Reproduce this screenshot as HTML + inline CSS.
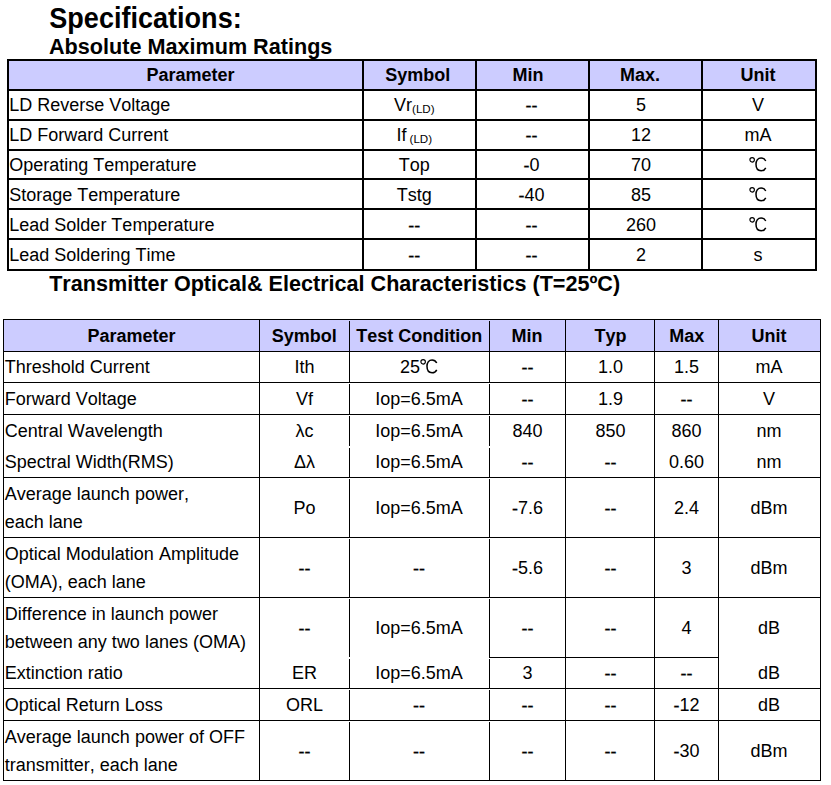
<!DOCTYPE html>
<html><head><meta charset="utf-8"><title>Specifications</title>
<style>
html,body{margin:0;padding:0;background:#fff;}
body{width:831px;height:785px;position:relative;overflow:hidden;font-family:"Liberation Sans",sans-serif;color:#000;}
.r{position:absolute;}
.t{position:absolute;white-space:nowrap;font-kerning:none;}
.dc{display:inline-block;width:18px;height:20px;vertical-align:top;}
.dc svg{display:block}
.dd{position:relative;top:1px;-webkit-text-stroke:0.3px #000;}
</style></head><body>
<div class="t" style="top:4.30px;font-size:27.05px;line-height:30px;left:49.30px;font-weight:bold;transform:scaleY(1.08);transform-origin:0 24px;">Specifications:</div>
<div class="t" style="top:34.00px;font-size:21.62px;line-height:25px;left:49.00px;font-weight:bold;">Absolute Maximum Ratings</div>
<div class="t" style="top:271.00px;font-size:21.58px;line-height:25px;left:49.20px;font-weight:bold;">Transmitter Optical&amp; Electrical Characteristics (T=25ºC)</div>
<div class="r" style="left:9px;top:61px;width:806px;height:28px;background:#ccccff"></div>
<div class="r" style="left:7px;top:59px;width:810px;height:2px;background:#000"></div>
<div class="r" style="left:7px;top:89px;width:810px;height:2px;background:#000"></div>
<div class="r" style="left:7px;top:119px;width:810px;height:2px;background:#000"></div>
<div class="r" style="left:7px;top:149px;width:810px;height:2px;background:#000"></div>
<div class="r" style="left:7px;top:178px;width:810px;height:2px;background:#000"></div>
<div class="r" style="left:7px;top:208px;width:810px;height:2px;background:#000"></div>
<div class="r" style="left:7px;top:238px;width:810px;height:2px;background:#000"></div>
<div class="r" style="left:7px;top:269px;width:810px;height:2px;background:#000"></div>
<div class="r" style="left:7px;top:59px;width:2px;height:212px;background:#000"></div>
<div class="r" style="left:362px;top:59px;width:2px;height:212px;background:#000"></div>
<div class="r" style="left:475px;top:59px;width:2px;height:212px;background:#000"></div>
<div class="r" style="left:588px;top:59px;width:2px;height:212px;background:#000"></div>
<div class="r" style="left:701px;top:59px;width:2px;height:212px;background:#000"></div>
<div class="r" style="left:815px;top:59px;width:2px;height:212px;background:#000"></div>
<div class="t" style="top:64.60px;font-size:18.0px;line-height:20px;left:190.50px;transform:translateX(-50%);font-weight:bold;">Parameter</div>
<div class="t" style="top:64.60px;font-size:18.0px;line-height:20px;left:417.80px;transform:translateX(-50%);font-weight:bold;">Symbol</div>
<div class="t" style="top:64.60px;font-size:18.0px;line-height:20px;left:528.00px;transform:translateX(-50%);font-weight:bold;">Min</div>
<div class="t" style="top:64.60px;font-size:18.0px;line-height:20px;left:640.00px;transform:translateX(-50%);font-weight:bold;">Max.</div>
<div class="t" style="top:64.60px;font-size:18.0px;line-height:20px;left:758.00px;transform:translateX(-50%);font-weight:bold;">Unit</div>
<div class="t" style="top:94.70px;font-size:18.0px;line-height:20px;left:9.30px;">LD Reverse Voltage</div>
<div class="t" style="top:94.70px;font-size:18.0px;line-height:20px;left:414.30px;transform:translateX(-50%);">Vr<span style="font-size:11.6px;position:relative;top:2px;margin-left:0px">(LD)</span></div>
<div class="t" style="top:94.70px;font-size:18.0px;line-height:20px;left:531.40px;transform:translateX(-50%);"><span class="dd">--</span></div>
<div class="t" style="top:94.70px;font-size:18.0px;line-height:20px;left:641.00px;transform:translateX(-50%);">5</div>
<div class="t" style="top:94.70px;font-size:18.0px;line-height:20px;left:758.00px;transform:translateX(-50%);">V</div>
<div class="t" style="top:124.70px;font-size:18.0px;line-height:20px;left:9.30px;">LD Forward Current</div>
<div class="t" style="top:124.70px;font-size:18.0px;line-height:20px;left:414.30px;transform:translateX(-50%);">If<span style="font-size:11.6px;position:relative;top:2px;margin-left:3px">(LD)</span></div>
<div class="t" style="top:124.70px;font-size:18.0px;line-height:20px;left:531.40px;transform:translateX(-50%);"><span class="dd">--</span></div>
<div class="t" style="top:124.70px;font-size:18.0px;line-height:20px;left:641.00px;transform:translateX(-50%);">12</div>
<div class="t" style="top:124.70px;font-size:18.0px;line-height:20px;left:758.00px;transform:translateX(-50%);">mA</div>
<div class="t" style="top:154.70px;font-size:18.0px;line-height:20px;left:9.30px;">Operating Temperature</div>
<div class="t" style="top:154.70px;font-size:18.0px;line-height:20px;left:414.30px;transform:translateX(-50%);">Top</div>
<div class="t" style="top:154.70px;font-size:18.0px;line-height:20px;left:531.40px;transform:translateX(-50%);"><span class="dd">-</span>0</div>
<div class="t" style="top:154.70px;font-size:18.0px;line-height:20px;left:641.00px;transform:translateX(-50%);">70</div>
<div class="t" style="top:154.70px;font-size:18.0px;line-height:20px;left:758.00px;transform:translateX(-50%);"><span class="dc"><svg width="18" height="20" viewBox="0 0 18 20"><g transform="translate(0,-1)" fill="none" stroke="#000"><circle cx="3.15" cy="5.85" r="2.25" stroke-width="1.15"/><path d="M16.75 7.0 C15.7 4.9 13.9 3.95 12.1 3.95 C9.0 3.95 7.0 6.6 7.0 10.35 C7.0 14.2 9.0 16.8 12.1 16.8 C13.9 16.8 15.7 15.9 16.75 13.8" stroke-width="1.5"/></g></svg></span></div>
<div class="t" style="top:184.70px;font-size:18.0px;line-height:20px;left:9.30px;">Storage Temperature</div>
<div class="t" style="top:184.70px;font-size:18.0px;line-height:20px;left:414.30px;transform:translateX(-50%);">Tstg</div>
<div class="t" style="top:184.70px;font-size:18.0px;line-height:20px;left:531.40px;transform:translateX(-50%);"><span class="dd">-</span>40</div>
<div class="t" style="top:184.70px;font-size:18.0px;line-height:20px;left:641.00px;transform:translateX(-50%);">85</div>
<div class="t" style="top:184.70px;font-size:18.0px;line-height:20px;left:758.00px;transform:translateX(-50%);"><span class="dc"><svg width="18" height="20" viewBox="0 0 18 20"><g transform="translate(0,-1)" fill="none" stroke="#000"><circle cx="3.15" cy="5.85" r="2.25" stroke-width="1.15"/><path d="M16.75 7.0 C15.7 4.9 13.9 3.95 12.1 3.95 C9.0 3.95 7.0 6.6 7.0 10.35 C7.0 14.2 9.0 16.8 12.1 16.8 C13.9 16.8 15.7 15.9 16.75 13.8" stroke-width="1.5"/></g></svg></span></div>
<div class="t" style="top:214.70px;font-size:18.0px;line-height:20px;left:9.30px;">Lead Solder Temperature</div>
<div class="t" style="top:214.70px;font-size:18.0px;line-height:20px;left:414.30px;transform:translateX(-50%);"><span class="dd">--</span></div>
<div class="t" style="top:214.70px;font-size:18.0px;line-height:20px;left:531.40px;transform:translateX(-50%);"><span class="dd">--</span></div>
<div class="t" style="top:214.70px;font-size:18.0px;line-height:20px;left:641.00px;transform:translateX(-50%);">260</div>
<div class="t" style="top:214.70px;font-size:18.0px;line-height:20px;left:758.00px;transform:translateX(-50%);"><span class="dc"><svg width="18" height="20" viewBox="0 0 18 20"><g transform="translate(0,-1)" fill="none" stroke="#000"><circle cx="3.15" cy="5.85" r="2.25" stroke-width="1.15"/><path d="M16.75 7.0 C15.7 4.9 13.9 3.95 12.1 3.95 C9.0 3.95 7.0 6.6 7.0 10.35 C7.0 14.2 9.0 16.8 12.1 16.8 C13.9 16.8 15.7 15.9 16.75 13.8" stroke-width="1.5"/></g></svg></span></div>
<div class="t" style="top:244.70px;font-size:18.0px;line-height:20px;left:9.30px;">Lead Soldering Time</div>
<div class="t" style="top:244.70px;font-size:18.0px;line-height:20px;left:414.30px;transform:translateX(-50%);"><span class="dd">--</span></div>
<div class="t" style="top:244.70px;font-size:18.0px;line-height:20px;left:531.40px;transform:translateX(-50%);"><span class="dd">--</span></div>
<div class="t" style="top:244.70px;font-size:18.0px;line-height:20px;left:641.00px;transform:translateX(-50%);">2</div>
<div class="t" style="top:244.70px;font-size:18.0px;line-height:20px;left:758.00px;transform:translateX(-50%);">s</div>
<div class="r" style="left:4px;top:320px;width:816px;height:31px;background:#ccccff"></div>
<div class="r" style="left:3px;top:319px;width:818px;height:1px;background:#000"></div>
<div class="r" style="left:3px;top:351px;width:818px;height:1px;background:#000"></div>
<div class="r" style="left:3px;top:382px;width:818px;height:1px;background:#000"></div>
<div class="r" style="left:3px;top:414px;width:818px;height:1px;background:#000"></div>
<div class="r" style="left:3px;top:477px;width:818px;height:1px;background:#000"></div>
<div class="r" style="left:3px;top:537px;width:818px;height:1px;background:#000"></div>
<div class="r" style="left:3px;top:597px;width:818px;height:1px;background:#000"></div>
<div class="r" style="left:3px;top:688px;width:818px;height:1px;background:#000"></div>
<div class="r" style="left:3px;top:720px;width:818px;height:1px;background:#000"></div>
<div class="r" style="left:3px;top:780px;width:818px;height:1px;background:#000"></div>
<div class="r" style="left:489px;top:657px;width:230px;height:1px;background:#000"></div>
<div class="r" style="left:3px;top:319px;width:1px;height:462px;background:#000"></div>
<div class="r" style="left:259px;top:319px;width:1px;height:462px;background:#000"></div>
<div class="r" style="left:565px;top:319px;width:1px;height:462px;background:#000"></div>
<div class="r" style="left:654px;top:319px;width:1px;height:462px;background:#000"></div>
<div class="r" style="left:718px;top:319px;width:1px;height:462px;background:#000"></div>
<div class="r" style="left:820px;top:319px;width:1px;height:462px;background:#000"></div>
<div class="r" style="left:349px;top:321px;width:1px;height:62px;background:#000"></div>
<div class="r" style="left:349px;top:384px;width:1px;height:31px;background:#000"></div>
<div class="r" style="left:349px;top:416px;width:1px;height:30px;background:#000"></div>
<div class="r" style="left:349px;top:448px;width:1px;height:30px;background:#000"></div>
<div class="r" style="left:349px;top:479px;width:1px;height:59px;background:#000"></div>
<div class="r" style="left:349px;top:539px;width:1px;height:59px;background:#000"></div>
<div class="r" style="left:349px;top:599px;width:1px;height:58px;background:#000"></div>
<div class="r" style="left:349px;top:659px;width:1px;height:30px;background:#000"></div>
<div class="r" style="left:349px;top:690px;width:1px;height:31px;background:#000"></div>
<div class="r" style="left:349px;top:722px;width:1px;height:59px;background:#000"></div>
<div class="r" style="left:489px;top:321px;width:1px;height:62px;background:#000"></div>
<div class="r" style="left:489px;top:384px;width:1px;height:31px;background:#000"></div>
<div class="r" style="left:489px;top:416px;width:1px;height:30px;background:#000"></div>
<div class="r" style="left:489px;top:448px;width:1px;height:30px;background:#000"></div>
<div class="r" style="left:489px;top:479px;width:1px;height:59px;background:#000"></div>
<div class="r" style="left:489px;top:539px;width:1px;height:59px;background:#000"></div>
<div class="r" style="left:489px;top:599px;width:1px;height:58px;background:#000"></div>
<div class="r" style="left:489px;top:659px;width:1px;height:30px;background:#000"></div>
<div class="r" style="left:489px;top:690px;width:1px;height:31px;background:#000"></div>
<div class="r" style="left:489px;top:722px;width:1px;height:59px;background:#000"></div>
<div class="t" style="top:325.60px;font-size:18.0px;line-height:20px;left:131.60px;transform:translateX(-50%);font-weight:bold;">Parameter</div>
<div class="t" style="top:325.60px;font-size:18.0px;line-height:20px;left:304.30px;transform:translateX(-50%);font-weight:bold;">Symbol</div>
<div class="t" style="top:325.60px;font-size:18.0px;line-height:20px;left:419.30px;transform:translateX(-50%);font-weight:bold;">Test Condition</div>
<div class="t" style="top:325.60px;font-size:18.0px;line-height:20px;left:527.00px;transform:translateX(-50%);font-weight:bold;">Min</div>
<div class="t" style="top:325.60px;font-size:18.0px;line-height:20px;left:610.50px;transform:translateX(-50%);font-weight:bold;">Typ</div>
<div class="t" style="top:325.60px;font-size:18.0px;line-height:20px;left:686.80px;transform:translateX(-50%);font-weight:bold;">Max</div>
<div class="t" style="top:325.60px;font-size:18.0px;line-height:20px;left:769.00px;transform:translateX(-50%);font-weight:bold;">Unit</div>
<div class="t" style="top:356.80px;font-size:18.0px;line-height:20px;left:4.80px;">Threshold Current</div>
<div class="t" style="top:356.80px;font-size:18.0px;line-height:20px;left:304.50px;transform:translateX(-50%);">Ith</div>
<div class="t" style="top:356.80px;font-size:18.0px;line-height:20px;left:419.00px;transform:translateX(-50%);">25<span class="dc"><svg width="18" height="20" viewBox="0 0 18 20"><g transform="translate(0,-1)" fill="none" stroke="#000"><circle cx="3.15" cy="5.85" r="2.25" stroke-width="1.15"/><path d="M16.75 7.0 C15.7 4.9 13.9 3.95 12.1 3.95 C9.0 3.95 7.0 6.6 7.0 10.35 C7.0 14.2 9.0 16.8 12.1 16.8 C13.9 16.8 15.7 15.9 16.75 13.8" stroke-width="1.5"/></g></svg></span></div>
<div class="t" style="top:356.80px;font-size:18.0px;line-height:20px;left:527.50px;transform:translateX(-50%);"><span class="dd">--</span></div>
<div class="t" style="top:356.80px;font-size:18.0px;line-height:20px;left:610.50px;transform:translateX(-50%);">1.0</div>
<div class="t" style="top:356.80px;font-size:18.0px;line-height:20px;left:686.60px;transform:translateX(-50%);">1.5</div>
<div class="t" style="top:356.80px;font-size:18.0px;line-height:20px;left:769.00px;transform:translateX(-50%);">mA</div>
<div class="t" style="top:388.60px;font-size:18.0px;line-height:20px;left:4.80px;">Forward Voltage</div>
<div class="t" style="top:388.60px;font-size:18.0px;line-height:20px;left:304.50px;transform:translateX(-50%);">Vf</div>
<div class="t" style="top:388.60px;font-size:18.0px;line-height:20px;left:419.00px;transform:translateX(-50%);">Iop=6.5mA</div>
<div class="t" style="top:388.60px;font-size:18.0px;line-height:20px;left:527.50px;transform:translateX(-50%);"><span class="dd">--</span></div>
<div class="t" style="top:388.60px;font-size:18.0px;line-height:20px;left:610.50px;transform:translateX(-50%);">1.9</div>
<div class="t" style="top:388.60px;font-size:18.0px;line-height:20px;left:686.60px;transform:translateX(-50%);"><span class="dd">--</span></div>
<div class="t" style="top:388.60px;font-size:18.0px;line-height:20px;left:769.00px;transform:translateX(-50%);">V</div>
<div class="t" style="top:421.00px;font-size:18.0px;line-height:20px;left:4.80px;">Central Wavelength</div>
<div class="t" style="top:421.00px;font-size:18.0px;line-height:20px;left:304.50px;transform:translateX(-50%);">λc</div>
<div class="t" style="top:421.00px;font-size:18.0px;line-height:20px;left:419.00px;transform:translateX(-50%);">Iop=6.5mA</div>
<div class="t" style="top:421.00px;font-size:18.0px;line-height:20px;left:527.50px;transform:translateX(-50%);">840</div>
<div class="t" style="top:421.00px;font-size:18.0px;line-height:20px;left:610.50px;transform:translateX(-50%);">850</div>
<div class="t" style="top:421.00px;font-size:18.0px;line-height:20px;left:686.60px;transform:translateX(-50%);">860</div>
<div class="t" style="top:421.00px;font-size:18.0px;line-height:20px;left:769.00px;transform:translateX(-50%);">nm</div>
<div class="t" style="top:451.80px;font-size:18.0px;line-height:20px;left:4.80px;">Spectral Width(RMS)</div>
<div class="t" style="top:451.80px;font-size:18.0px;line-height:20px;left:304.50px;transform:translateX(-50%);">Δλ</div>
<div class="t" style="top:451.80px;font-size:18.0px;line-height:20px;left:419.00px;transform:translateX(-50%);">Iop=6.5mA</div>
<div class="t" style="top:451.80px;font-size:18.0px;line-height:20px;left:527.50px;transform:translateX(-50%);"><span class="dd">--</span></div>
<div class="t" style="top:451.80px;font-size:18.0px;line-height:20px;left:610.50px;transform:translateX(-50%);"><span class="dd">--</span></div>
<div class="t" style="top:451.80px;font-size:18.0px;line-height:20px;left:686.60px;transform:translateX(-50%);">0.60</div>
<div class="t" style="top:451.80px;font-size:18.0px;line-height:20px;left:769.00px;transform:translateX(-50%);">nm</div>
<div class="t" style="top:484.20px;font-size:18.0px;line-height:20px;left:4.80px;">Average launch power,</div>
<div class="t" style="top:512.00px;font-size:18.0px;line-height:20px;left:4.80px;">each lane</div>
<div class="t" style="top:498.00px;font-size:18.0px;line-height:20px;left:304.50px;transform:translateX(-50%);">Po</div>
<div class="t" style="top:498.00px;font-size:18.0px;line-height:20px;left:419.00px;transform:translateX(-50%);">Iop=6.5mA</div>
<div class="t" style="top:498.00px;font-size:18.0px;line-height:20px;left:527.50px;transform:translateX(-50%);"><span class="dd">-</span>7.6</div>
<div class="t" style="top:498.00px;font-size:18.0px;line-height:20px;left:610.50px;transform:translateX(-50%);"><span class="dd">--</span></div>
<div class="t" style="top:498.00px;font-size:18.0px;line-height:20px;left:686.60px;transform:translateX(-50%);">2.4</div>
<div class="t" style="top:498.00px;font-size:18.0px;line-height:20px;left:769.00px;transform:translateX(-50%);">dBm</div>
<div class="t" style="top:544.20px;font-size:18.0px;line-height:20px;left:4.80px;">Optical Modulation Amplitude</div>
<div class="t" style="top:572.00px;font-size:18.0px;line-height:20px;left:4.80px;">(OMA), each lane</div>
<div class="t" style="top:558.00px;font-size:18.0px;line-height:20px;left:304.50px;transform:translateX(-50%);"><span class="dd">--</span></div>
<div class="t" style="top:558.00px;font-size:18.0px;line-height:20px;left:419.00px;transform:translateX(-50%);"><span class="dd">--</span></div>
<div class="t" style="top:558.00px;font-size:18.0px;line-height:20px;left:527.50px;transform:translateX(-50%);"><span class="dd">-</span>5.6</div>
<div class="t" style="top:558.00px;font-size:18.0px;line-height:20px;left:610.50px;transform:translateX(-50%);"><span class="dd">--</span></div>
<div class="t" style="top:558.00px;font-size:18.0px;line-height:20px;left:686.60px;transform:translateX(-50%);">3</div>
<div class="t" style="top:558.00px;font-size:18.0px;line-height:20px;left:769.00px;transform:translateX(-50%);">dBm</div>
<div class="t" style="top:604.20px;font-size:18.0px;line-height:20px;left:4.80px;">Difference in launch power</div>
<div class="t" style="top:632.00px;font-size:18.0px;line-height:20px;left:4.80px;">between any two lanes (OMA)</div>
<div class="t" style="top:618.00px;font-size:18.0px;line-height:20px;left:304.50px;transform:translateX(-50%);"><span class="dd">--</span></div>
<div class="t" style="top:618.00px;font-size:18.0px;line-height:20px;left:419.00px;transform:translateX(-50%);">Iop=6.5mA</div>
<div class="t" style="top:618.00px;font-size:18.0px;line-height:20px;left:527.50px;transform:translateX(-50%);"><span class="dd">--</span></div>
<div class="t" style="top:618.00px;font-size:18.0px;line-height:20px;left:610.50px;transform:translateX(-50%);"><span class="dd">--</span></div>
<div class="t" style="top:618.00px;font-size:18.0px;line-height:20px;left:686.60px;transform:translateX(-50%);">4</div>
<div class="t" style="top:618.00px;font-size:18.0px;line-height:20px;left:769.00px;transform:translateX(-50%);">dB</div>
<div class="t" style="top:663.00px;font-size:18.0px;line-height:20px;left:4.80px;">Extinction ratio</div>
<div class="t" style="top:663.00px;font-size:18.0px;line-height:20px;left:304.50px;transform:translateX(-50%);">ER</div>
<div class="t" style="top:663.00px;font-size:18.0px;line-height:20px;left:419.00px;transform:translateX(-50%);">Iop=6.5mA</div>
<div class="t" style="top:663.00px;font-size:18.0px;line-height:20px;left:527.50px;transform:translateX(-50%);">3</div>
<div class="t" style="top:663.00px;font-size:18.0px;line-height:20px;left:610.50px;transform:translateX(-50%);"><span class="dd">--</span></div>
<div class="t" style="top:663.00px;font-size:18.0px;line-height:20px;left:686.60px;transform:translateX(-50%);"><span class="dd">--</span></div>
<div class="t" style="top:663.00px;font-size:18.0px;line-height:20px;left:769.00px;transform:translateX(-50%);">dB</div>
<div class="t" style="top:694.60px;font-size:18.0px;line-height:20px;left:4.80px;">Optical Return Loss</div>
<div class="t" style="top:694.60px;font-size:18.0px;line-height:20px;left:304.50px;transform:translateX(-50%);">ORL</div>
<div class="t" style="top:694.60px;font-size:18.0px;line-height:20px;left:419.00px;transform:translateX(-50%);"><span class="dd">--</span></div>
<div class="t" style="top:694.60px;font-size:18.0px;line-height:20px;left:527.50px;transform:translateX(-50%);"><span class="dd">--</span></div>
<div class="t" style="top:694.60px;font-size:18.0px;line-height:20px;left:610.50px;transform:translateX(-50%);"><span class="dd">--</span></div>
<div class="t" style="top:694.60px;font-size:18.0px;line-height:20px;left:686.60px;transform:translateX(-50%);"><span class="dd">-</span>12</div>
<div class="t" style="top:694.60px;font-size:18.0px;line-height:20px;left:769.00px;transform:translateX(-50%);">dB</div>
<div class="t" style="top:727.00px;font-size:18.0px;line-height:20px;left:4.80px;">Average launch power of OFF</div>
<div class="t" style="top:755.00px;font-size:18.0px;line-height:20px;left:4.80px;">transmitter, each lane</div>
<div class="t" style="top:741.00px;font-size:18.0px;line-height:20px;left:304.50px;transform:translateX(-50%);"><span class="dd">--</span></div>
<div class="t" style="top:741.00px;font-size:18.0px;line-height:20px;left:419.00px;transform:translateX(-50%);"><span class="dd">--</span></div>
<div class="t" style="top:741.00px;font-size:18.0px;line-height:20px;left:527.50px;transform:translateX(-50%);"><span class="dd">--</span></div>
<div class="t" style="top:741.00px;font-size:18.0px;line-height:20px;left:610.50px;transform:translateX(-50%);"><span class="dd">--</span></div>
<div class="t" style="top:741.00px;font-size:18.0px;line-height:20px;left:686.60px;transform:translateX(-50%);"><span class="dd">-</span>30</div>
<div class="t" style="top:741.00px;font-size:18.0px;line-height:20px;left:769.00px;transform:translateX(-50%);">dBm</div>
</body></html>
